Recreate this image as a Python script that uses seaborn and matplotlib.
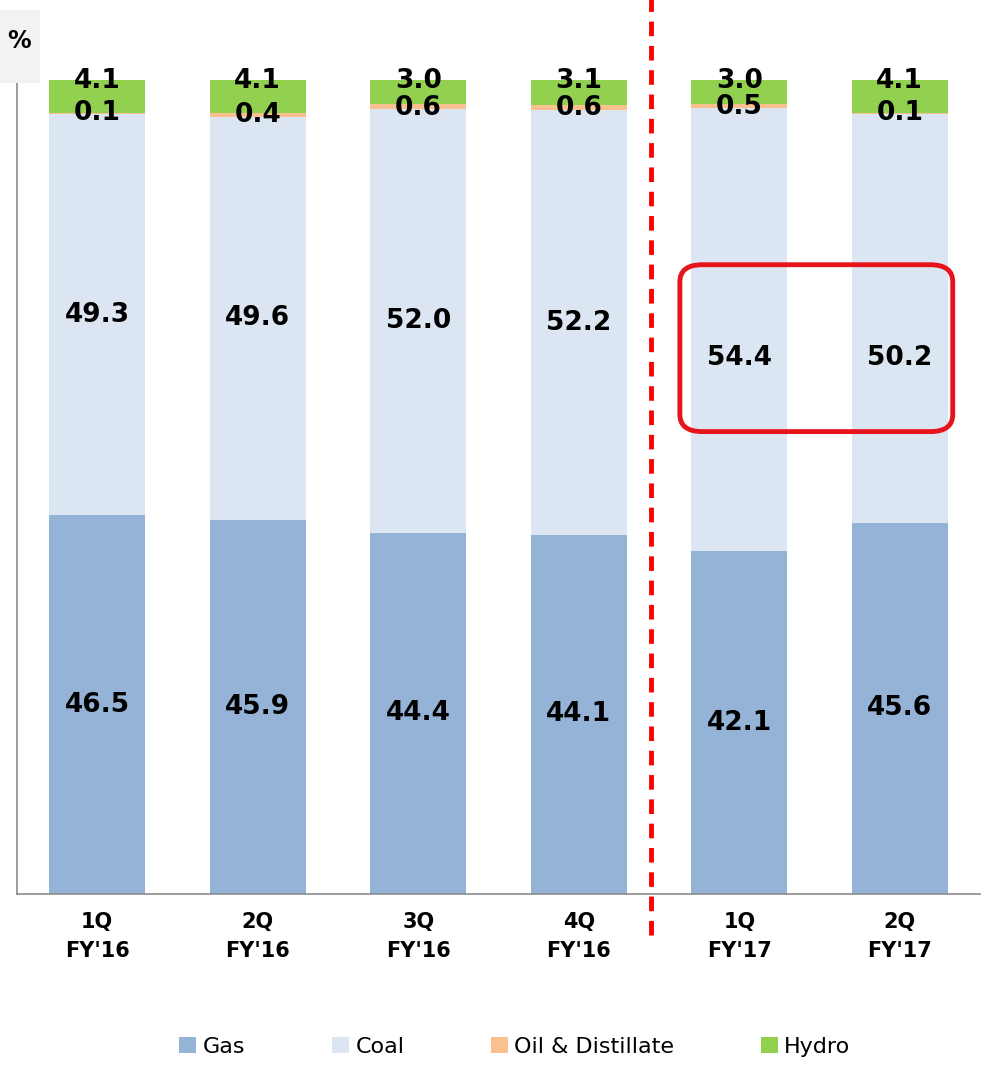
import numpy as np
import pandas as pd
import matplotlib.pyplot as plt
import matplotlib.transforms as mtransforms
from matplotlib.patches import FancyBboxPatch, Rectangle
import seaborn as sns

# dati
quarters = ["1Q\nFY'16", "2Q\nFY'16", "3Q\nFY'16", "4Q\nFY'16", "1Q\nFY'17", "2Q\nFY'17"]
gas = [46.5, 45.9, 44.4, 44.1, 42.1, 45.6]
coal = [49.3, 49.6, 52.0, 52.2, 54.4, 50.2]
oil = [0.1, 0.4, 0.6, 0.6, 0.5, 0.1]
hydro = [4.1, 4.1, 3.0, 3.1, 3.0, 4.1]
series = ["Gas", "Coal", "Oil & Distillate", "Hydro"]
colori = ["#95b3d7", "#dce6f2", "#fac090", "#92d050"]

sns.set_style("white")
plt.rcParams['font.family'] = ['DejaVu Sans']
plt.rcParams['text.color'] = 'black'
plt.rcParams['xtick.color'] = 'black'

df = pd.DataFrame({"Trimestre": quarters, "Gas": gas, "Coal": coal,
                   "Oil & Distillate": oil, "Hydro": hydro})
# cumulate per le barre impilate
cum = df[series].cumsum(axis=1)

fig = plt.figure(figsize=(9.81, 10.66), dpi=100)
ax = fig.add_axes([0.0173, 0.1614, 0.9817, 0.7636])

# disegno dal totale verso il basso, cosi le barre si sovrappongono
for s, c in zip(series[::-1], colori[::-1]):
    sns.barplot(x=df["Trimestre"], y=cum[s], color=c, width=0.6, ax=ax,
                saturation=1, linewidth=0)

ax.set_xlim(-0.5, 5.5)
ax.set_ylim(0, 100)
ax.set_xlabel('')
ax.set_ylabel('')
ax.set_yticks([])
for sp in ['top', 'right']:
    ax.spines[sp].set_visible(False)
for sp in ['left', 'bottom']:
    ax.spines[sp].set_color('#8c8c8c')
    ax.spines[sp].set_linewidth(1.2)

ax.set_xticks(range(len(quarters)))
ax.set_xticklabels(quarters, fontsize=15, fontweight='bold', linespacing=1.55, color='black')
ax.tick_params(axis='x', which='major', length=0, pad=13)
ax.set_xticks(np.arange(-0.5, 6, 1), minor=True)
ax.tick_params(axis='x', which='minor', length=9, width=1.2, color='#8c8c8c', direction='out')

# etichette
for i in range(len(quarters)):
    ax.text(i, gas[i] / 2, f"{gas[i]:.1f}", ha='center', va='center', fontsize=19, fontweight='bold')
    yc = gas[i] + coal[i] / 2 if i < 4 else 65.8
    ax.text(i, yc, f"{coal[i]:.1f}", ha='center', va='center', fontsize=19, fontweight='bold')
    ax.text(i, gas[i] + coal[i] + 0.2, f"{oil[i]:.1f}", ha='center', va='center', fontsize=19, fontweight='bold')
    ax.text(i, 99.9, f"{hydro[i]:.1f}", ha='center', va='center', fontsize=19, fontweight='bold')

# riquadro rosso sugli ultimi due trimestri
box = FancyBboxPatch((3.63, 56.8), 1.70, 20.5, boxstyle="round,pad=0,rounding_size=0.14",
                     mutation_aspect=15, fill=False, edgecolor='#e8141b', linewidth=3.5, zorder=5)
ax.add_patch(box)

# linea tratteggiata rossa
trans = mtransforms.blended_transform_factory(ax.transData, ax.transAxes)
ax.plot([3.45, 3.45], [-0.05, 1.1], transform=trans, color='#ff0000', linestyle=(0, (3, 2)),
        linewidth=3.5, clip_on=False, zorder=6)

# "%" in alto a sinistra
fig.patches.append(Rectangle((0, 0.922), 0.041, 0.069, transform=fig.transFigure,
                             facecolor='#f2f2f2', edgecolor='none', zorder=0))
fig.text(0.019, 0.962, '%', ha='center', va='center', fontsize=17, fontweight='bold')

handles = [Rectangle((0, 0), 1, 1, facecolor=c, edgecolor='none') for c in colori]
fig.legend(handles, series, loc='center', bbox_to_anchor=(0.525, 0.018), ncol=4, frameon=False,
           fontsize=16, handlelength=0.75, handleheight=0.75, handletextpad=0.3, columnspacing=3.9)

fig.savefig('out.png', dpi=100)
